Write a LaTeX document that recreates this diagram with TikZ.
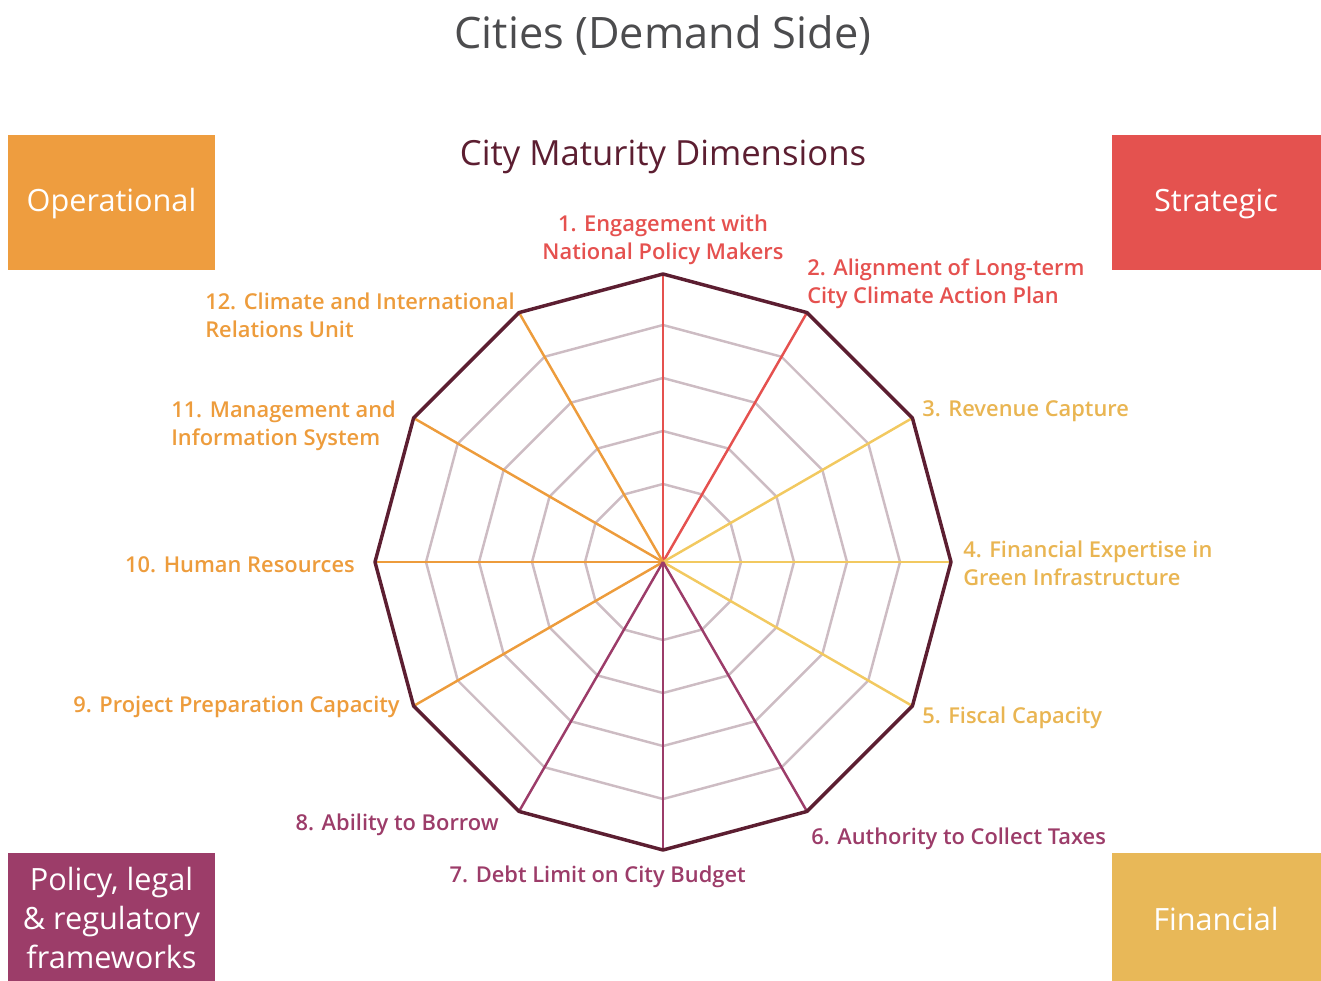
\documentclass[tikz,border=0pt]{standalone}
\usepackage{fontspec}
\usetikzlibrary{calc}
\IfFontExistsTF{Open Sans SemiBold}
  {\setmainfont{Open Sans}[BoldFont={Open Sans SemiBold}]}
  {\IfFontExistsTF{Open Sans Semibold}
    {\setmainfont{Open Sans}[BoldFont={Open Sans Semibold}]}
    {\setmainfont{Open Sans}}}

\definecolor{titlegray}{HTML}{4C4C4E}
\definecolor{maroon}{HTML}{5C1E31}
\definecolor{ringcol}{HTML}{CDBCC3}
\definecolor{redc}{HTML}{E5514F}
\definecolor{goldline}{HTML}{F2C960}
\definecolor{goldtext}{HTML}{E9B552}
\definecolor{purp}{HTML}{9C3C69}
\definecolor{orng}{HTML}{ED9C3C}
\definecolor{opbox}{HTML}{EE9D3F}
\definecolor{stbox}{HTML}{E4524F}
\definecolor{plbox}{HTML}{9C3D69}
\definecolor{fnbox}{HTML}{E8B858}

\begin{document}
\begin{tikzpicture}[x=0.75pt,y=-0.75pt,
  ring/.style={draw=ringcol,line width=1.85pt,line join=round},
  axis/.style={line width=1.85pt},
  outer/.style={draw=maroon,line width=2.6pt,line join=round},
  lbl/.style={font=\fontsize{16.4pt}{21pt}\selectfont\bfseries,inner sep=0pt},
  catbox/.style={inner sep=0pt,text=white,align=center,
    font=\fontsize{23pt}{29pt}\selectfont}]
\useasboundingbox (0,0) rectangle (1321,981);

% headings
\node[text=titlegray,font=\fontsize{32.5pt}{36pt}\selectfont] (title) at (663,35) {Cities (Demand Side)};
\node[text=maroon,font=\fontsize{26pt}{30pt}\selectfont] (sub) at (663,157) {City Maturity Dimensions};

% category boxes
\fill[opbox] (8,135) rectangle (215,270);
\node[catbox] (op) at (111.5,204) {Operational};
\fill[stbox] (1112,135) rectangle (1321,270);
\node[catbox] (st) at (1216,204) {Strategic};
\fill[plbox] (8,853) rectangle (215,981);
\node[catbox] (pl) at (111.5,918) {Policy, legal\\\& regulatory\\frameworks};
\fill[fnbox] (1112,853) rectangle (1321,981);
\node[catbox] (fn) at (1216,919) {Financial};

% radar grid
\coordinate (c) at (663,562);
\foreach \k in {1,...,12}
  \coordinate (v\k) at ($(c)+({30*\k-120}:288)$);
\foreach \r in {78,131,184,237}
  \draw[ring] ($(c)+(-90:\r)$) \foreach \a in {-60,-30,...,240} { -- ($(c)+(\a:\r)$) } -- cycle;

% axes, coloured by category
\foreach \k in {1,2} \draw[axis,redc] (c) -- (v\k);
\foreach \k in {3,4,5} \draw[axis,goldline] (c) -- (v\k);
\foreach \k in {9,10,11,12} \draw[axis,orng] (c) -- (v\k);
\foreach \k in {6,7,8} \draw[axis,purp] (c) -- (v\k);

\draw[outer] (v1) \foreach \k in {2,...,12} { -- (v\k) } -- cycle;

% dimension labels
\node[lbl,text=redc,align=center] (l1) at (663,240) {1. Engagement with\\National Policy Makers};
\node[lbl,text=redc,align=left,anchor=west] (l2) at (807,284) {2. Alignment of Long-term\\City Climate Action Plan};
\node[lbl,text=goldtext,anchor=west] (l3) at (922,411) {3. Revenue Capture};
\node[lbl,text=goldtext,align=left,anchor=west] (l4) at (963,563) {4. Financial Expertise in\\Green Infrastructure};
\node[lbl,text=goldtext,anchor=west] (l5) at (922,718) {5. Fiscal Capacity};
\node[lbl,text=purp,anchor=west] (l6) at (811,839) {6. Authority to Collect Taxes};
\node[lbl,text=purp,anchor=east] (l7) at (746,877) {7. Debt Limit on City Budget};
\node[lbl,text=purp,anchor=east] (l8) at (499,825) {8. Ability to Borrow};
\node[lbl,text=orng,anchor=east] (l9) at (400,707) {9. Project Preparation Capacity};
\node[lbl,text=orng,anchor=east] (l10) at (355,565) {10. Human Resources};
\node[lbl,text=orng,align=left,anchor=west] (l11) at (171,426) {11. Management and\\Information System};
\node[lbl,text=orng,align=left,anchor=west] (l12) at (205,315) {12. Climate and International\\Relations Unit};
\end{tikzpicture}
\end{document}
